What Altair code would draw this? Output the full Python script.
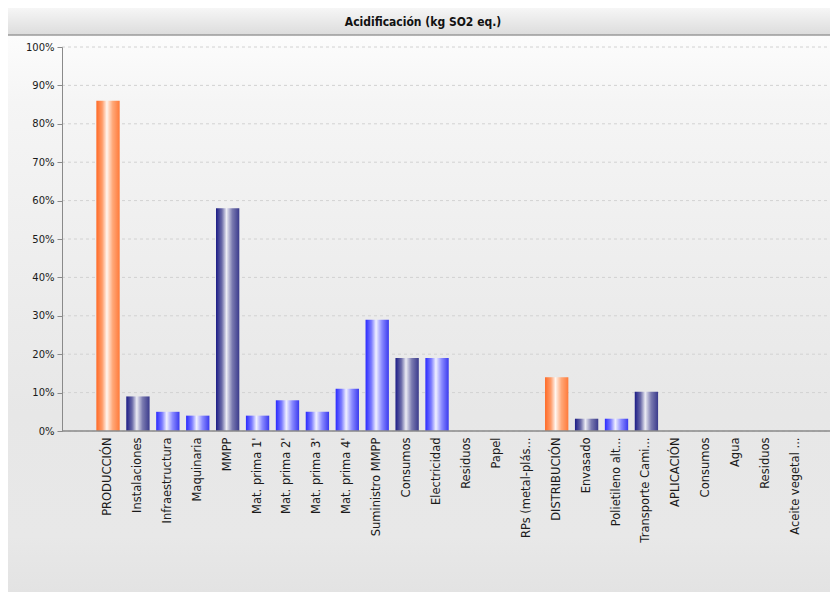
import altair as alt
import pandas as pd

labels = ["PRODUCCIÓN", "Instalaciones", "Infraestructura", "Maquinaria", "MMPP",
          "Mat. prima 1'", "Mat. prima 2'", "Mat. prima 3'", "Mat. prima 4'",
          "Suministro MMPP", "Consumos", "Electricidad", "Residuos", "Papel",
          "RPs (metal-plás...", "DISTRIBUCIÓN", "Envasado", "Polietileno alt...",
          "Transporte Cami...", "APLICACIÓN", "Consumos", "Agua", "Residuos",
          "Aceite vegetal ..."]
values = [0.86, 0.09, 0.05, 0.04, 0.58, 0.04, 0.08, 0.05, 0.11, 0.29, 0.19, 0.19,
          0.0, 0.0, 0.0, 0.14, 0.032, 0.032, 0.102, 0.0, 0.0, 0.0, 0.0, 0.0]
levels = [1, 2, 3, 3, 2, 3, 3, 3, 3, 3, 2, 3, 2, 3, 3, 1, 2, 3, 2, 1, 2, 3, 2, 3]
y_ticks = [0, 0.1, 0.2, 0.3, 0.4, 0.5, 0.6, 0.7, 0.8, 0.9, 1.0]
title_text = ["Acidificación (kg SO2 eq.)"]

W, H = 768, 384
PAD_L, PAD_T, PAD_B = 54, 39, 161

df = pd.DataFrame({"idx": list(range(len(labels))), "label": labels,
                   "value": values, "level": levels})
ticks_df = pd.DataFrame({"t": y_ticks})
one = pd.DataFrame({"title": title_text})

label_expr = "[" + ",".join("'" + l.replace("'", "\\'") + "'" for l in labels) + "][datum.value]"

x_scale = alt.Scale(domain=list(range(len(labels))), paddingInner=0.22,
                    paddingOuter=0.5, range=[19.4, 760.6])
y_scale = alt.Scale(domain=[0, 1], nice=False)

x_axis = alt.Axis(title=None, labelAngle=270, labelAlign="right", labelBaseline="middle",
                  labelExpr=label_expr, ticks=False, labelPadding=6, labelFontSize=11.5,
                  labelFont="DejaVu Sans", labelColor="#1a1a1a", domain=False,
                  grid=False, zindex=1, labelOverlap=False)
y_axis = alt.Axis(title=None, values=y_ticks, format=".0%", labelFontSize=10,
                  labelFont="DejaVu Sans", labelColor="#1a1a1a", tickColor="#8a8a8a",
                  tickSize=5, labelPadding=3, domainColor="#8a8a8a", grid=False, zindex=1)

def grad_h(edge_l, mid, edge_r, soft_l, soft_r):
    return alt.Gradient(gradient="linear", x1=0, x2=1, y1=0, y2=0, stops=[
        alt.GradientStop(color=edge_l, offset=0),
        alt.GradientStop(color=soft_l, offset=0.25),
        alt.GradientStop(color=mid, offset=0.45),
        alt.GradientStop(color=soft_r, offset=0.7),
        alt.GradientStop(color=edge_r, offset=1),
    ])

orange = grad_h("#ff6a26", "#fff6f0", "#ff7a3a", "#ff9c6a", "#ffa878")
bright = grad_h("#2a2aff", "#f0f0ff", "#3a3aee", "#7b7bff", "#8a8aff")
dark = grad_h("#1c1c86", "#ececf4", "#3a3a8c", "#6a6aa8", "#7a7ab0")

bg = alt.Chart(one).mark_rect(fill=alt.Gradient(
    gradient="linear", x1=0, x2=0, y1=0, y2=1, stops=[
        alt.GradientStop(color="#fcfcfc", offset=0),
        alt.GradientStop(color="#f5f5f5", offset=0.12),
        alt.GradientStop(color="#e7e7e7", offset=0.68),
        alt.GradientStop(color="#e8e8e8", offset=0.9),
        alt.GradientStop(color="#e3e3e3", offset=1)])).encode(
    x=alt.value(-PAD_L), x2=alt.value(W), y=alt.value(-11), y2=alt.value(H + PAD_B))

title_bar = alt.Chart(one).mark_rect(fill=alt.Gradient(
    gradient="linear", x1=0, x2=0, y1=0, y2=1, stops=[
        alt.GradientStop(color="#f6f6f6", offset=0),
        alt.GradientStop(color="#dcdcdc", offset=1)])).encode(
    x=alt.value(-PAD_L), x2=alt.value(W), y=alt.value(-PAD_T), y2=alt.value(-12))

title_line = alt.Chart(one).mark_rule(color="#9a9a9a", strokeWidth=1.5).encode(
    x=alt.value(-PAD_L), x2=alt.value(W), y=alt.value(-12))

title = alt.Chart(one).mark_text(font="DejaVu Sans Condensed", fontSize=12,
                                 fontWeight="bold", color="#111111",
                                 baseline="middle", align="center").encode(
    text="title:N", x=alt.value(361), y=alt.value(-25))

grid = alt.Chart(ticks_df).mark_rule(color="#d2d2d2", strokeDash=[3, 3], strokeWidth=1).encode(
    y=alt.Y("t:Q", scale=y_scale, axis=y_axis), x=alt.value(0), x2=alt.value(W))

def bars(level, fill):
    return alt.Chart(df).transform_filter(alt.datum.level == level).mark_bar(
        fill=fill).encode(
        x=alt.X("idx:O", scale=x_scale, axis=x_axis),
        y=alt.Y("value:Q", scale=y_scale, axis=y_axis))

x_line = alt.Chart(one).mark_rule(color="#8a8a8a", strokeWidth=1.5).encode(
    x=alt.value(0), x2=alt.value(W), y=alt.value(H))

chart = alt.layer(bg, title_bar, title_line, title, grid,
                  bars(1, orange), bars(2, dark), bars(3, bright), x_line).properties(
    width=W, height=H,
    autosize=alt.AutoSizeParams(type="none"),
    padding={"left": PAD_L, "top": PAD_T, "right": 0, "bottom": PAD_B},
    background="white",
).configure_view(stroke=None)

chart.save("out.html", embed_options={"renderer": "svg", "actions": False})
